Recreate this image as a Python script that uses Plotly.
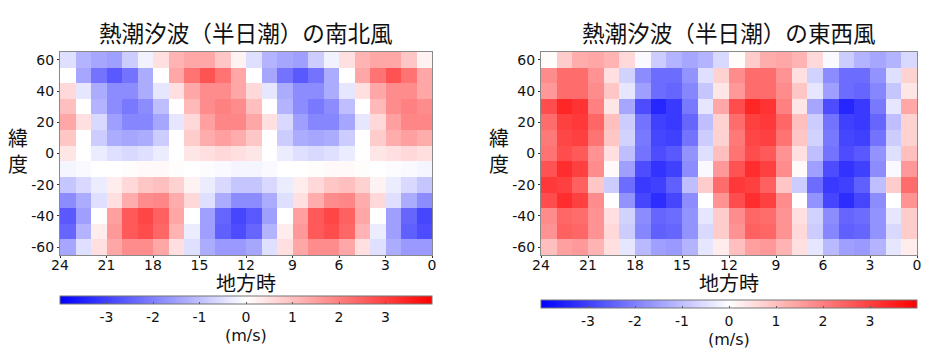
import plotly.graph_objects as go

# local time (hour) at cell centres, left -> right (axis runs 24 -> 0)
hours = [23.5, 22.5, 21.5, 20.5, 19.5, 18.5, 17.5, 16.5, 15.5, 14.5, 13.5, 12.5,
         11.5, 10.5, 9.5, 8.5, 7.5, 6.5, 5.5, 4.5, 3.5, 2.5, 1.5, 0.5]
lats = [60, 50, 40, 30, 20, 10, 0, -10, -20, -30, -40, -50, -60]

# 南北風 (meridional wind, m/s), rows = lats, cols = hours
v_wind = [
    [-0.5, -1.2, -1.4, -1.5, -0.8, -0.2, 0.5, 1.2, 1.4, 1.4, 0.9, 0.2,
     -0.5, -1.2, -1.4, -1.5, -0.8, -0.2, 0.5, 1.2, 1.4, 1.4, 0.9, 0.2],
    [0.0, -1.4, -2.2, -2.6, -2.2, -1.3, 0.0, 1.4, 2.2, 2.7, 2.2, 1.4,
     0.0, -1.4, -2.2, -2.6, -2.2, -1.3, 0.0, 1.4, 2.2, 2.7, 2.2, 1.4],
    [0.6, -0.4, -1.3, -1.8, -1.8, -1.3, -0.4, 0.5, 1.4, 1.8, 1.8, 1.4,
     0.6, -0.4, -1.3, -1.8, -1.8, -1.3, -0.4, 0.5, 1.4, 1.8, 1.8, 1.4],
    [1.0, 0.0, -1.2, -1.8, -2.1, -1.8, -1.0, 0.0, 1.1, 1.8, 2.0, 1.8,
     1.0, 0.0, -1.2, -1.8, -2.1, -1.8, -1.0, 0.0, 1.1, 1.8, 2.0, 1.8],
    [1.4, 0.5, -0.6, -1.5, -1.9, -1.9, -1.4, -0.4, 0.6, 1.5, 1.9, 1.9,
     1.4, 0.5, -0.6, -1.5, -1.9, -1.9, -1.4, -0.4, 0.6, 1.5, 1.9, 1.9],
    [0.9, 0.0, -0.8, -1.3, -1.4, -1.3, -0.8, 0.0, 0.8, 1.3, 1.5, 1.3,
     0.9, 0.0, -0.8, -1.3, -1.4, -1.3, -0.8, 0.0, 0.8, 1.3, 1.5, 1.3],
    [0.4, 0.0, -0.3, -0.5, -0.6, -0.5, -0.3, 0.0, 0.4, 0.5, 0.6, 0.5,
     0.4, 0.0, -0.3, -0.5, -0.6, -0.5, -0.3, 0.0, 0.4, 0.5, 0.6, 0.5],
    [-0.15, -0.1, 0.0, 0.0, 0.05, 0.1, 0.1, 0.05, 0.0, -0.05, -0.1, -0.15,
     -0.15, -0.1, 0.0, 0.0, 0.05, 0.1, 0.1, 0.05, 0.0, -0.05, -0.1, -0.15],
    [-0.9, -0.6, -0.3, 0.3, 0.6, 0.9, 1.0, 0.7, 0.2, -0.3, -0.6, -0.9,
     -0.9, -0.6, -0.3, 0.3, 0.6, 0.9, 1.0, 0.7, 0.2, -0.3, -0.6, -0.9],
    [-1.8, -1.3, -0.5, 0.5, 1.3, 1.8, 1.9, 1.3, 0.6, -0.5, -1.3, -1.8,
     -1.8, -1.3, -0.5, 0.5, 1.3, 1.8, 1.9, 1.3, 0.6, -0.5, -1.3, -1.8],
    [-2.6, -1.5, 0.0, 1.5, 2.6, 2.9, 2.5, 1.4, 0.0, -1.5, -2.4, -2.9,
     -2.6, -1.5, 0.0, 1.5, 2.6, 2.9, 2.5, 1.4, 0.0, -1.5, -2.4, -2.9],
    [-2.4, -1.2, 0.3, 1.6, 2.6, 2.8, 2.4, 1.2, -0.3, -1.5, -2.5, -2.8,
     -2.4, -1.2, 0.3, 1.6, 2.6, 2.8, 2.4, 1.2, -0.3, -1.5, -2.5, -2.8],
    [-1.4, -0.5, 0.5, 1.4, 1.8, 1.8, 1.4, 0.5, -0.5, -1.3, -1.6, -1.6,
     -1.4, -0.5, 0.5, 1.4, 1.8, 1.8, 1.4, 0.5, -0.5, -1.3, -1.6, -1.6],
]

# 東西風 (zonal wind, m/s)
u_wind = [
    [0.05, 0.8, 1.3, 1.4, 1.2, 0.6, -0.1, -0.8, -1.2, -1.4, -1.2, -0.6,
     0.05, 0.8, 1.3, 1.4, 1.2, 0.6, -0.1, -0.8, -1.2, -1.4, -1.2, -0.6],
    [1.8, 2.3, 2.3, 1.7, 0.5, -0.7, -1.8, -2.3, -2.3, -1.7, -0.5, 0.7,
     1.8, 2.3, 2.3, 1.7, 0.5, -0.7, -1.8, -2.3, -2.3, -1.7, -0.5, 0.7],
    [1.6, 2.3, 2.3, 1.8, 0.9, -0.4, -1.5, -2.3, -2.4, -1.9, -0.9, 0.4,
     1.6, 2.3, 2.3, 1.8, 0.9, -0.4, -1.5, -2.3, -2.4, -1.9, -0.9, 0.4],
    [2.8, 3.4, 3.2, 2.0, 0.4, -1.4, -2.8, -3.4, -3.1, -2.1, -0.4, 1.4,
     2.8, 3.4, 3.2, 2.0, 0.4, -1.4, -2.8, -3.4, -3.1, -2.1, -0.4, 1.4],
    [2.3, 3.0, 3.1, 2.4, 1.0, -0.8, -2.2, -3.0, -3.1, -2.4, -1.0, 0.7,
     2.3, 3.0, 3.1, 2.4, 1.0, -0.8, -2.2, -3.0, -3.1, -2.4, -1.0, 0.7],
    [2.1, 2.9, 3.0, 2.2, 0.9, -0.7, -2.1, -2.9, -3.0, -2.2, -0.8, 0.7,
     2.1, 2.9, 3.0, 2.2, 0.9, -0.7, -2.1, -2.9, -3.0, -2.2, -0.8, 0.7],
    [2.2, 2.8, 2.6, 1.7, 0.5, -1.0, -2.2, -2.8, -2.6, -1.7, -0.5, 1.0,
     2.2, 2.8, 2.6, 1.7, 0.5, -1.0, -2.2, -2.8, -2.6, -1.7, -0.5, 1.0],
    [2.7, 3.3, 3.0, 1.8, 0.1, -1.5, -2.8, -3.2, -3.0, -1.8, -0.1, 1.6,
     2.7, 3.3, 3.0, 1.8, 0.1, -1.5, -2.8, -3.2, -3.0, -1.8, -0.1, 1.6],
    [3.1, 3.0, 2.5, 0.9, -0.8, -2.3, -3.1, -3.0, -2.5, -1.0, 0.8, 2.3,
     3.1, 3.0, 2.5, 0.9, -0.8, -2.3, -3.1, -3.0, -2.5, -1.0, 0.8, 2.3],
    [2.8, 3.3, 3.0, 1.8, 0.0, -1.7, -2.9, -3.3, -2.9, -1.8, 0.0, 1.7,
     2.8, 3.3, 3.0, 1.8, 0.0, -1.7, -2.9, -3.3, -2.9, -1.8, 0.0, 1.7],
    [1.8, 2.4, 2.3, 1.7, 0.5, -0.7, -1.8, -2.4, -2.3, -1.7, -0.4, 0.8,
     1.8, 2.4, 2.3, 1.7, 0.5, -0.7, -1.8, -2.4, -2.3, -1.7, -0.4, 0.8],
    [1.7, 2.5, 2.4, 1.7, 0.6, -0.8, -1.9, -2.5, -2.4, -1.7, -0.6, 0.8,
     1.7, 2.5, 2.4, 1.7, 0.6, -0.8, -1.9, -2.5, -2.4, -1.7, -0.6, 0.8],
    [1.0, 1.5, 1.6, 1.2, 0.5, -0.4, -1.1, -1.5, -1.6, -1.2, -0.4, 0.3,
     1.0, 1.5, 1.6, 1.2, 0.5, -0.4, -1.1, -1.5, -1.6, -1.2, -0.4, 0.3],
]

x_tickvals = [24, 21, 18, 15, 12, 9, 6, 3, 0]
x_ticktext = ["24", "21", "18", "15", "12", "9", "6", "3", "0"]
y_tickvals = [60, 40, 20, 0, -20, -40, -60]
y_ticktext = ["60", "40", "20", "0", "-20", "-40", "-60"]
cb_tickvals = [-3, -2, -1, 0, 1, 2, 3]
cb_ticktext = ["-3", "-2", "-1", "0", "1", "2", "3"]

titles = ["熱潮汐波（半日潮）の南北風", "熱潮汐波（半日潮）の東西風"]

# page body adds an 8px margin, so the figure is laid out in shifted coordinates
OFF = 8
W, H = 943 - OFF, 356 - OFF
FONT = "DejaVu Sans, Noto Sans CJK JP, sans-serif"
bwr = [[0.0, "rgb(0,0,255)"], [0.5, "rgb(255,255,255)"], [1.0, "rgb(255,0,0)"]]

def px(x):
    return (x - OFF) / W

def py(y):
    return 1 - (y - OFF) / H

fig = go.Figure()
fig.add_trace(go.Heatmap(x=hours, y=lats, z=v_wind, coloraxis="coloraxis",
                         xaxis="x", yaxis="y"))
fig.add_trace(go.Heatmap(x=hours, y=lats, z=u_wind, coloraxis="coloraxis2",
                         xaxis="x2", yaxis="y2"))

panels = [(60, 432), (541, 917)]
cb_tops = [296, 300]
unit_y = [335, 339]
ytop, ybot = 52, 255
ydom = [py(ybot), py(ytop)]

def xdom(p):
    return [px(p[0]), px(p[1])]

axis_common = dict(showgrid=False, zeroline=False, showline=True, mirror=True,
                   linecolor="#8a8a8a", linewidth=1, ticks="outside", ticklen=2,
                   tickcolor="#333", automargin=False,
                   tickfont=dict(family=FONT, size=14, color="#111"))

def cbar(p, top):
    return dict(orientation="h", x=(px(p[0]) + px(p[1])) / 2, xanchor="center",
                y=py(top), yanchor="top", len=p[1] - p[0], lenmode="pixels",
                thickness=8, outlinewidth=1, outlinecolor="#777",
                xpad=0, ypad=0,
                tickvals=cb_tickvals, ticktext=cb_ticktext, ticks="inside",
                ticklen=2, tickcolor="#555",
                tickfont=dict(family=FONT, size=14, color="#111"))

fig.update_layout(
    width=W, height=H, margin=dict(l=0, r=0, t=0, b=0, autoexpand=False),
    paper_bgcolor="white", plot_bgcolor="white",
    font=dict(family=FONT),
    coloraxis=dict(colorscale=bwr, cmin=-4, cmax=4, colorbar=cbar(panels[0], cb_tops[0])),
    coloraxis2=dict(colorscale=bwr, cmin=-4, cmax=4, colorbar=cbar(panels[1], cb_tops[1])),
    xaxis=dict(domain=xdom(panels[0]), range=[24, 0], anchor="y",
               tickvals=x_tickvals, ticktext=x_ticktext, ticklabelstandoff=-5,
               **axis_common),
    yaxis=dict(domain=ydom, range=[-65, 65], anchor="x",
               tickvals=y_tickvals, ticktext=y_ticktext, **axis_common),
    xaxis2=dict(domain=xdom(panels[1]), range=[24, 0], anchor="y2",
                tickvals=x_tickvals, ticktext=x_ticktext, ticklabelstandoff=-5,
                **axis_common),
    yaxis2=dict(domain=ydom, range=[-65, 65], anchor="x2",
                tickvals=y_tickvals, ticktext=y_ticktext, **axis_common),
)

ann = []
for i, p in enumerate(panels):
    cx = (px(p[0]) + px(p[1])) / 2
    ann.append(dict(text=titles[i], x=cx, y=py(34), xref="paper", yref="paper",
                    showarrow=False, xanchor="center", yanchor="middle",
                    font=dict(family=FONT, size=22.6, color="#111")))
    ann.append(dict(text="地方時", x=cx, y=py(284), xref="paper", yref="paper",
                    showarrow=False, xanchor="center", yanchor="middle",
                    font=dict(family=FONT, size=20, color="#111")))
    ann.append(dict(text="緯<br>度", x=px(p[0] - 42), y=py(152),
                    xref="paper", yref="paper", showarrow=False,
                    xanchor="center", yanchor="middle",
                    font=dict(family=FONT, size=20, color="#111")))
    ann.append(dict(text="(m/s)", x=cx, y=py(unit_y[i]), xref="paper", yref="paper",
                    showarrow=False, xanchor="center", yanchor="middle",
                    font=dict(family=FONT, size=16, color="#111")))
fig.update_layout(annotations=ann)

fig.write_html("out.html")
